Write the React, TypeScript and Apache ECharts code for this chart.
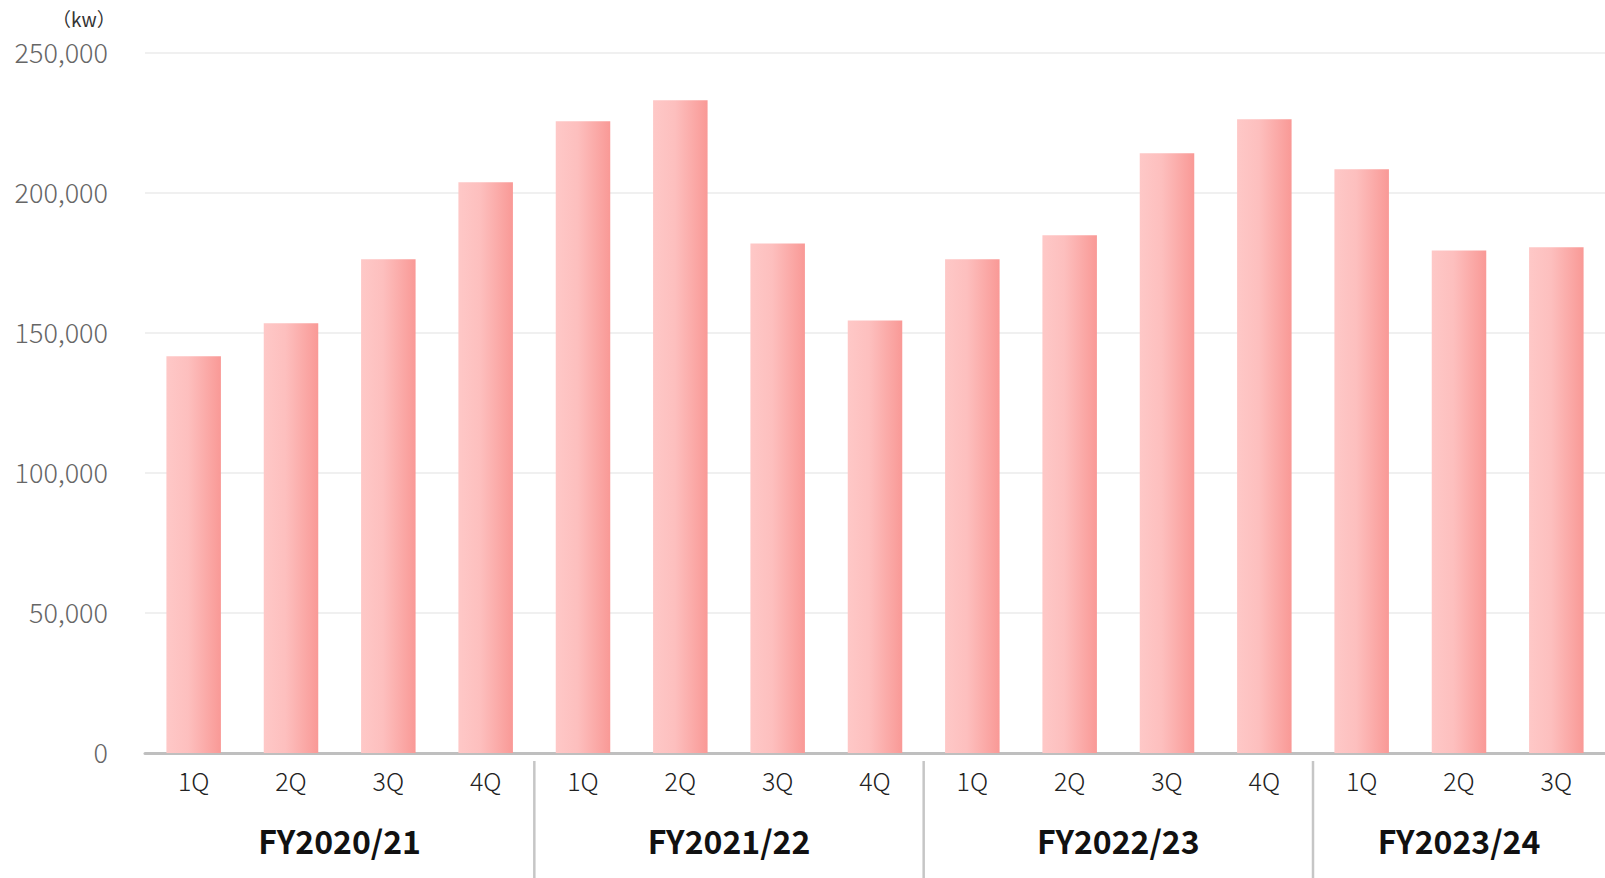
import React, { useEffect, useRef } from "react";
import * as echarts from "echarts";

const quarters = ["1Q", "2Q", "3Q", "4Q", "1Q", "2Q", "3Q", "4Q", "1Q", "2Q", "3Q", "4Q", "1Q", "2Q", "3Q"];
const values = [141700, 153500, 176300, 203800, 225600, 233100, 182000, 154500, 176300, 184900, 214200, 226300, 208500, 179500, 180600];
const fiscalYears = ["FY2020/21", "FY2021/22", "FY2022/23", "FY2023/24"];
const groupSizes = [4, 4, 4, 3];
const yTicks = [0, 50000, 100000, 150000, 200000, 250000];
const unitLabel = "（kw）";

const FONT = '"Noto Sans CJK JP", "Noto Sans", sans-serif';

export default function App() {
  const ref = useRef<HTMLDivElement>(null);

  useEffect(() => {
    if (!ref.current) return;
    const chart = echarts.init(ref.current, undefined, { renderer: "svg" });
    const option: any = {
      animation: false,
      backgroundColor: "#ffffff",
      grid: { left: 145, right: 0, top: 53, bottom: 125, containLabel: false },
      xAxis: {
        type: "category",
        data: quarters,
        axisLine: { show: true, lineStyle: { color: "#bfbfbf", width: 3 } },
        axisTick: { show: false },
        axisLabel: { color: "#222", fontSize: 25, fontWeight: 300, fontFamily: FONT, margin: 14, interval: 0 },
      },
      yAxis: {
        type: "value",
        min: yTicks[0],
        max: yTicks[yTicks.length - 1],
        interval: yTicks[1] - yTicks[0],
        axisLine: { show: false },
        axisTick: { show: false },
        splitLine: { lineStyle: { color: "#f0f0f0", width: 2 } },
        axisLabel: {
          color: "#666",
          fontSize: 27,
          fontWeight: 300,
          fontFamily: FONT,
          margin: 37,
          verticalAlign: "bottom",
          lineHeight: 30,
          padding: [0, 0, -13, 0],
          formatter: (v: number) => v.toLocaleString("en-US"),
        },
      },
      series: [
        {
          type: "bar",
          data: values,
          barWidth: "56%",
          itemStyle: {
            color: new echarts.graphic.LinearGradient(0, 0, 1, 0, [
              { offset: 0, color: "#fec8c7" },
              { offset: 0.4, color: "#fdbfbe" },
              { offset: 1, color: "#f99996" },
            ]),
          },
        },
      ],
    };
    chart.setOption(option);

    const px = (i: number) => (chart.convertToPixel({ xAxisIndex: 0 }, i) as unknown) as number;
    const graphics: any[] = [
      {
        type: "text",
        left: 52,
        top: 9,
        style: { text: unitLabel, fontSize: 19, fill: "#333", fontFamily: FONT },
      },
    ];
    let start = 0;
    groupSizes.forEach((size, gi) => {
      const end = start + size - 1;
      const cx = (px(start) + px(end)) / 2;
      graphics.push({
        type: "text",
        x: cx,
        y: 840,
        style: {
          text: fiscalYears[gi],
          fontSize: 32,
          fontWeight: "bold",
          fill: "#111",
          fontFamily: FONT,
          align: "center",
          verticalAlign: "middle",
        },
      });
      if (gi < groupSizes.length - 1) {
        const bx = (px(end) + px(end + 1)) / 2;
        graphics.push({
          type: "line",
          shape: { x1: bx, y1: 761, x2: bx, y2: 878 },
          style: { stroke: "#c6c6c6", lineWidth: 2.5 },
        });
      }
      start += size;
    });
    chart.setOption({ graphic: graphics });

    return () => chart.dispose();
  }, []);

  return (
    <div
      ref={ref}
      style={{ position: "fixed", left: 0, top: 0, width: 1605, height: 878 }}
    />
  );
}
